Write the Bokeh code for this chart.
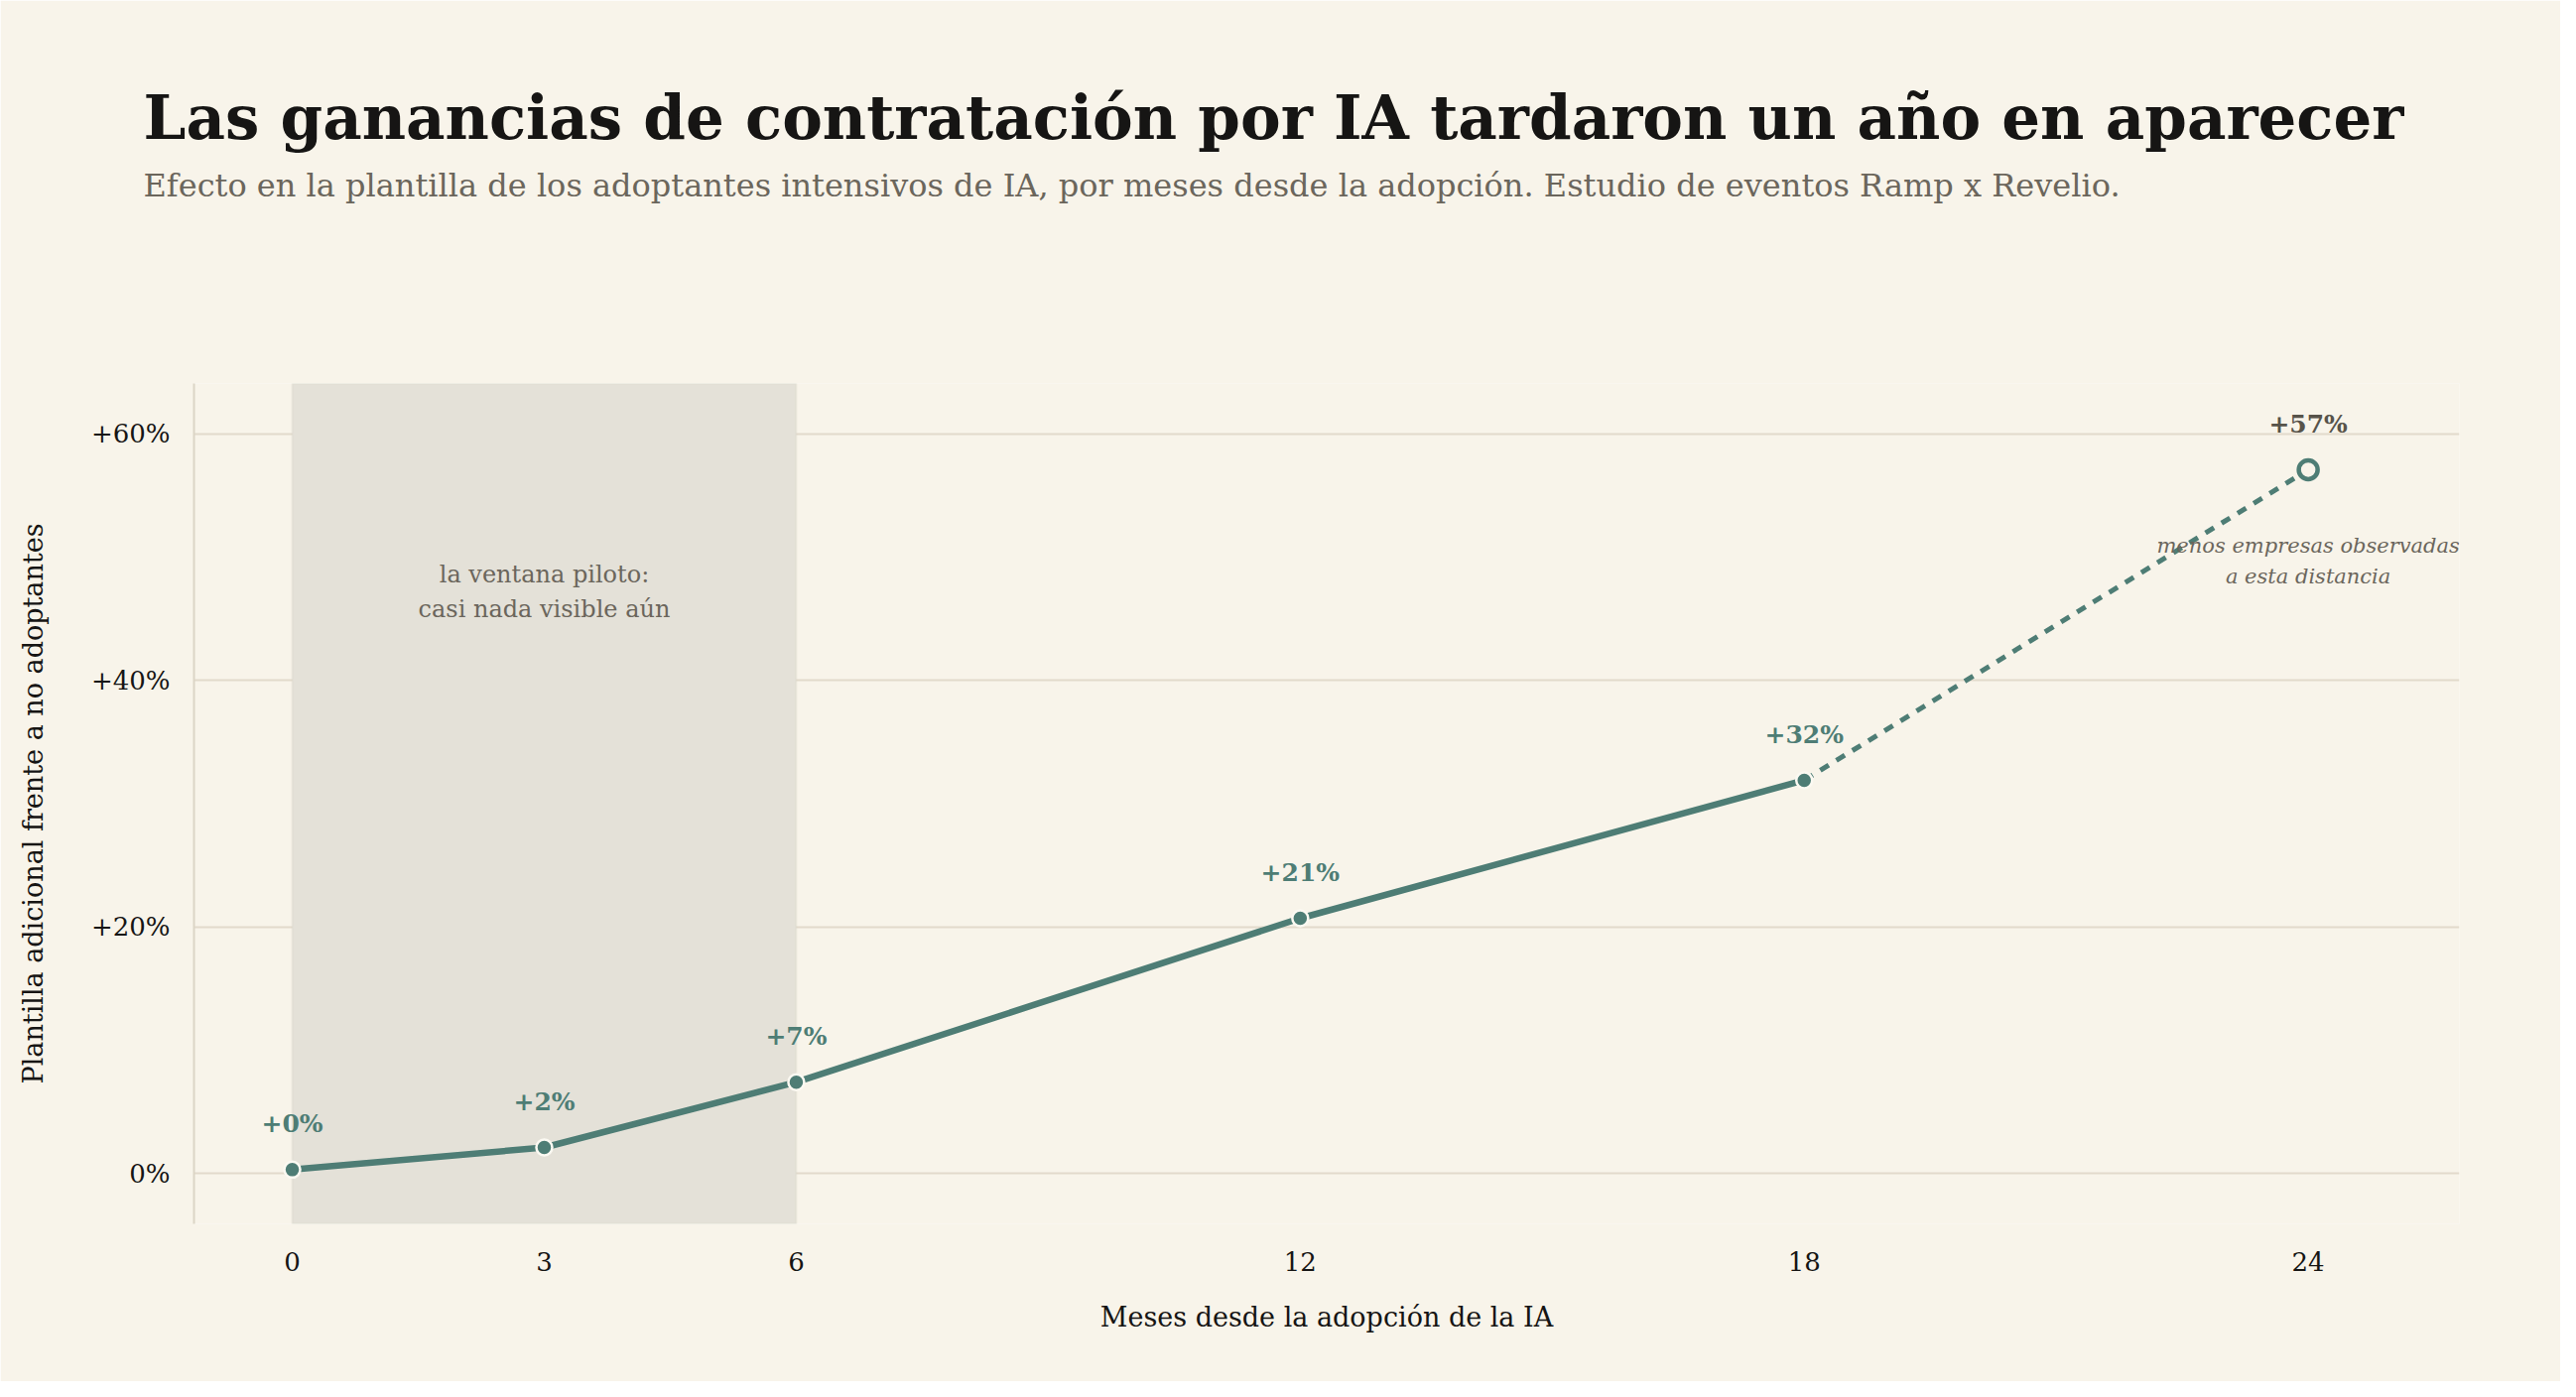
from bokeh.plotting import figure
from bokeh.models import Range1d, BoxAnnotation, Title, FixedTicker, ColumnDataSource
from bokeh.core.properties import value
from bokeh.embed import file_html
from bokeh.resources import INLINE

# ---- data ----
months = [0, 3, 6, 12, 18, 24]
effect = [0.3, 2.1, 7.4, 20.7, 31.9, 57.1]
x_ticks = [0, 3, 6, 12, 18, 24]
y_ticks = [0, 20, 40, 60]
y_tick_labels = {0: "0%", 20: "+20%", 40: "+40%", 60: "+60%"}
solid_months = months[:5]
solid_effect = effect[:5]
dash_months = months[4:]
dash_effect = effect[4:]
point_labels = ["+%d%%" % round(v) for v in effect]

title = "Las ganancias de contratación por IA tardaron un año en aparecer"
subtitle = ("Efecto en la plantilla de los adoptantes intensivos de IA, por meses desde la adopción. "
            "Estudio de eventos Ramp x Revelio.")

BG = "#f8f4ea"
TEAL = "#4e7d75"
GRID = "#e2dacb"
GRAY = "#6b665c"
DARK = "#161514"
SERIF = "DejaVu Serif"

p = figure(width=2580, height=1392, output_backend="svg", toolbar_location=None,
           x_range=Range1d(-1.17, 25.8), y_range=Range1d(-4.1, 64.1),
           min_border_left=195, min_border_right=102, min_border_top=386, min_border_bottom=159)
p.background_fill_color = BG
p.border_fill_color = BG
p.outline_line_color = None

# grid
p.xgrid.grid_line_color = None
p.ygrid.grid_line_color = GRID
p.ygrid.grid_line_width = 2
p.ygrid.ticker = FixedTicker(ticks=y_ticks)

# axes
p.xaxis.ticker = FixedTicker(ticks=x_ticks)
p.yaxis.ticker = FixedTicker(ticks=y_ticks)
p.yaxis.major_label_overrides = y_tick_labels
for ax in (p.xaxis[0], p.yaxis[0]):
    ax.major_tick_line_color = None
    ax.minor_tick_line_color = None
    ax.major_label_text_font = SERIF
    ax.major_label_text_font_size = "26px"
    ax.major_label_text_color = DARK
    ax.axis_label_text_font = SERIF
    ax.axis_label_text_font_size = "27px"
    ax.axis_label_text_font_style = "normal"
    ax.axis_label_text_color = DARK
p.xaxis.axis_line_color = None
p.yaxis.axis_line_color = "#dcd5c6"
p.yaxis.axis_line_width = 2
p.xaxis.major_label_standoff = 22
p.yaxis.major_label_standoff = 18
p.xaxis.axis_label = "Meses desde la adopción de la IA"
p.yaxis.axis_label = "Plantilla adicional frente a no adoptantes"
p.xaxis.axis_label_standoff = 28
p.yaxis.axis_label_standoff = 40

# pilot window band
p.add_layout(BoxAnnotation(left=months[0], right=months[2], fill_color="#e4e1d8", fill_alpha=1.0,
                           line_color="#d8d4c8", line_width=2, level="underlay"))

# lines
p.line(solid_months, solid_effect, line_color=TEAL, line_width=6.5)
p.line(dash_months, dash_effect, line_color=TEAL, line_width=5, line_dash="10 9")

# markers
p.scatter(solid_months, solid_effect, size=16, fill_color=TEAL, line_color="#fbf9f2", line_width=2.5)
p.scatter(dash_months[-1:], dash_effect[-1:], size=19, fill_color=BG, line_color=TEAL, line_width=4.5)

# point labels
lab_src = ColumnDataSource(dict(x=months, y=effect, t=point_labels,
                                c=[TEAL] * 5 + ["#57534a"]))
p.text(x="x", y="y", text="t", source=lab_src, text_color="c", text_font=value(SERIF),
       text_font_style="bold", text_font_size="25px", text_align="center",
       text_baseline="middle", y_offset=-46)

# annotations
p.text(x=[3, 3], y=[48.6, 45.8], text=["la ventana piloto:", "casi nada visible aún"],
       text_color=GRAY, text_font=value(SERIF), text_font_size="24px",
       text_align="center", text_baseline="middle")
p.text(x=[24, 24], y=[50.9, 48.4], text=["menos empresas observadas", "a esta distancia"],
       text_color=GRAY, text_font=value(SERIF), text_font_style="italic", text_font_size="21px",
       text_align="center", text_baseline="middle")

# spacer, subtitle, title (first added sits closest to the frame)
p.title = None
p.add_layout(Title(text=" ", text_font=SERIF, text_font_size="1px", text_color=BG,
                   standoff=178), "above")
p.add_layout(Title(text=subtitle, text_font=SERIF, text_font_size="32px", text_font_style="normal",
                   text_color=GRAY, align="left", offset=-51, standoff=0), "above")
p.add_layout(Title(text=title, text_font=SERIF, text_font_size="61px", text_font_style="bold",
                   text_color=DARK, align="left", offset=-51, standoff=24), "above")

open("out.html", "w").write(file_html(p, INLINE))
